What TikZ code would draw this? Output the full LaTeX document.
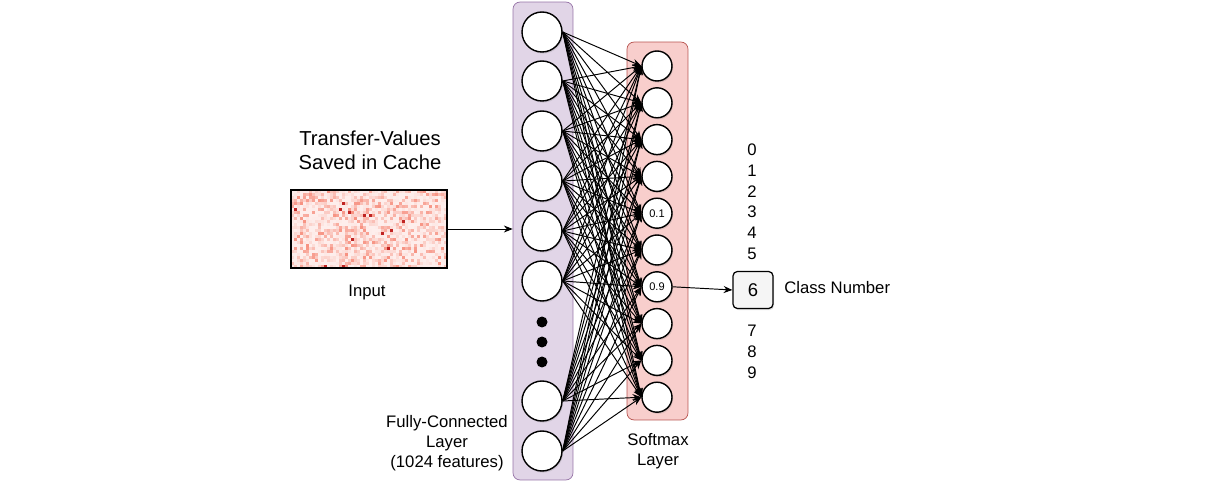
\documentclass[tikz,border=0pt]{standalone}
\usepackage{fontspec}
\setmainfont{Liberation Sans}
\usetikzlibrary{arrows.meta, shadows}
\definecolor{FcFill}{HTML}{E1D5E7}
\definecolor{FcLine}{HTML}{9673A6}
\definecolor{SmFill}{HTML}{F8CECC}
\definecolor{SmLine}{HTML}{B85450}
\definecolor{Heat}{RGB}{242,85,60}
\definecolor{HeatDark}{RGB}{170,15,25}

\begin{document}
\begin{tikzpicture}[x=0.02cm, y=-0.02cm,
    lbl/.style={font=\fontsize{9.5}{11.4}\selectfont, align=center, inner sep=0pt},
    fcnode/.style={circle, draw, fill=white, line width=0.8pt, minimum size=0.8cm,
        drop shadow={shadow xshift=0.6pt, shadow yshift=-0.9pt, opacity=0.25}},
    smnode/.style={circle, draw, fill=white, line width=0.8pt, minimum size=0.6cm, inner sep=0pt,
        font=\fontsize{6.3}{7.5}\selectfont,
        drop shadow={shadow xshift=0.6pt, shadow yshift=-0.9pt, opacity=0.25}},
    dot/.style={circle, fill=black, minimum size=0.22cm, inner sep=0pt},
    link/.style={line width=0.55pt, -{Stealth[length=5pt, width=4pt]}},
    digit/.style={font=\fontsize{9.5}{11.4}\selectfont, inner sep=0pt}]
    \useasboundingbox (0,0) rectangle (1218,486);

    % input heat map
    \pgfmathsetseed{42}
    \foreach \i in {0,...,51}
        \foreach \j in {0,...,25} {
            \pgfmathsetmacro\v{int(10+55*rnd^3)}
            \pgfmathsetmacro\w{rnd}
            \ifdim\w pt>0.993pt
                \fill[HeatDark!70!Heat] (291+3*\i,190+3*\j) rectangle ++(3,3);
            \else
                \fill[Heat!\v!white] (291+3*\i,190+3*\j) rectangle ++(3,3);
            \fi
        }
    \node[draw, line width=0.7pt, minimum width=3.12cm, minimum height=1.56cm, inner sep=0pt] (input) at (369,229) {};
    \node[lbl, font=\fontsize{11.5}{13.8}\selectfont] (title) at (370,150) {Transfer-Values\\Saved in Cache};
    \node[lbl] (inputlbl) at (367,292) {Input};

    % layer boxes
    \node[draw=FcLine, fill=FcFill, rounded corners=4pt, minimum width=1.2cm, minimum height=9.56cm] (fcbox) at (543,241) {};
    \node[draw=SmLine, fill=SmFill, rounded corners=4pt, minimum width=1.22cm, minimum height=7.56cm] (smbox) at (657.5,231) {};

    % fully-connected nodes
    \foreach \y [count=\k] in {32,81,131,181,231,281,401,451}
        \node[fcnode] (fc\k) at (542,\y) {};
    \foreach \y [count=\k] in {322,342,362}
        \node[dot] (dot\k) at (542,\y) {};

    % softmax nodes
    \foreach \i/\t in {0/,1/,2/,3/,4/0.1,5/,6/0.9,7/,8/,9/}
        \node[smnode] (sm\i) at (657,{66+36.8*\i}) {\t};

    % connections
    \foreach \a in {1,...,8}
        \foreach \b in {0,...,9}
            \draw[link] (fc\a.east) -- (sm\b.west);

    \draw[link] (input.east) -- (input.east -| fcbox.west);

    \node[lbl] (fclbl) at (447,443) {Fully-Connected\\Layer\\(1024 features)};
    \node[lbl] (smlbl) at (658,451) {Softmax\\Layer};

    % class output
    \foreach \d/\y in {0/150,1/171,2/192,3/212,4/233,5/254,7/331,8/352,9/373}
        \node[digit] (d\d) at (752,\y) {\d};
    \node[draw, fill=black!4, rounded corners=2.5pt, line width=0.7pt, minimum width=0.8cm, minimum height=0.74cm,
        font=\fontsize{10.5}{12}\selectfont,
        drop shadow={shadow xshift=0.6pt, shadow yshift=-0.9pt, opacity=0.25}] (cls) at (753,290) {6};
    \draw[link] (sm6.east) -- (cls.west);
    \node[lbl, anchor=west] (clslbl) at (784,288) {Class Number};
\end{tikzpicture}
\end{document}
